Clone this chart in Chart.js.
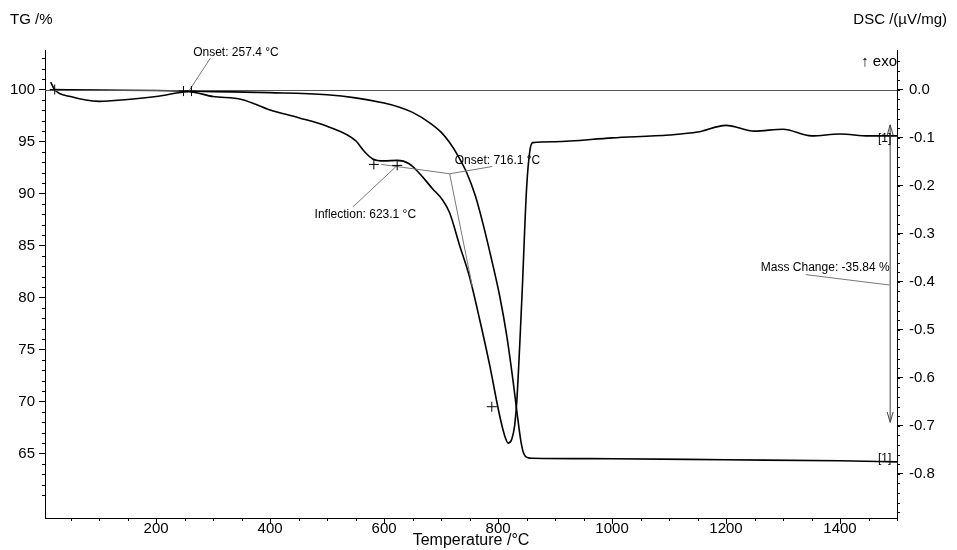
<!DOCTYPE html>
<html>
<head>
<meta charset="utf-8">
<script src="https://cdn.jsdelivr.net/npm/chart.js@4"></script>
<style>
  html, body { margin: 0; padding: 0; background: #fff; }
  #wrap { width: 957px; height: 550px; }
</style>
</head>
<body>
<div id="wrap"><canvas id="tga"></canvas></div>
<script>
// temperatures (°C) and TG mass (%)
const tgTemp = [20, 100, 200, 300, 400, 500, 550, 600, 627, 650, 680, 700, 715, 730, 745, 760, 773, 788, 803, 815, 826, 834, 840, 845, 852, 860, 1000, 1200, 1400, 1500];
const tgMass = [100, 99.95, 99.9, 99.8, 99.7, 99.5, 99.2, 98.7, 98.3, 97.8, 96.8, 95.9, 94.9, 93.6, 92.0, 89.8, 87.2, 83.8, 80.1, 76.4, 72.1, 68.6, 66.2, 65.0, 64.6, 64.55, 64.5, 64.4, 64.3, 64.2];

// temperatures (°C) and DSC signal (µV/mg)
const dscTemp = [15, 22, 50, 100, 150, 200, 257, 300, 350, 400, 450, 500, 550, 565, 580, 600, 623, 644, 662, 685, 703, 715, 732, 750, 768, 785, 803, 812, 818, 824, 829, 833, 842, 850, 856, 861, 900, 1000, 1100, 1150, 1200, 1250, 1300, 1350, 1400, 1450, 1500];
const dscVal = [0.016, 0.0, -0.014, -0.024, -0.02, -0.014, -0.004, -0.014, -0.02, -0.042, -0.058, -0.076, -0.106, -0.128, -0.144, -0.148, -0.147, -0.154, -0.174, -0.206, -0.23, -0.256, -0.322, -0.39, -0.48, -0.572, -0.68, -0.722, -0.736, -0.728, -0.70, -0.646, -0.428, -0.206, -0.125, -0.11, -0.108, -0.1, -0.094, -0.088, -0.074, -0.086, -0.082, -0.096, -0.092, -0.096, -0.096];

const xTicks = [200, 400, 600, 800, 1000, 1200, 1400];
const tgTicks = [65, 70, 75, 80, 85, 90, 95, 100];
const dscTicks = [-0.8, -0.7, -0.6, -0.5, -0.4, -0.3, -0.2, -0.1, 0.0];

const FONT = "'Liberation Sans', Arial, sans-serif";

const toPoints = (xs, ys) => xs.map((x, i) => ({ x: x, y: ys[i] }));

// draws the thermal-analysis markings: baseline, onsets, arrow, labels
const markings = {
  id: "markings",
  afterDraw(chart) {
    const { ctx, chartArea: a, scales } = chart;
    const X = (v) => scales.x.getPixelForValue(v);
    const L = (v) => scales.yTG.getPixelForValue(v);
    const R = (v) => scales.yDSC.getPixelForValue(v);
    ctx.save();

    // minor ticks
    ctx.strokeStyle = "#000";
    ctx.lineWidth = 1;
    ctx.beginPath();
    for (let v = 60; v <= 103; v += 1) {
      if (v % 5 === 0) continue;
      const y = Math.round(L(v)) + 0.5;
      ctx.moveTo(a.left - 3, y); ctx.lineTo(a.left, y);
    }
    for (let v = -0.88; v <= 0.08; v += 0.02) {
      const y = Math.round(R(v)) + 0.5;
      ctx.moveTo(a.right, y); ctx.lineTo(a.right + 3, y);
    }
    for (let v = 50; v <= 1500; v += 50) {
      if (v % 200 === 0) continue;
      const x = Math.round(X(v)) + 0.5;
      ctx.moveTo(x, a.bottom); ctx.lineTo(x, a.bottom + 3);
    }
    ctx.stroke();

    // 100 % baseline
    ctx.strokeStyle = "#555";
    ctx.beginPath();
    ctx.moveTo(a.left, Math.round(L(100)) + 0.5);
    ctx.lineTo(a.right, Math.round(L(100)) + 0.5);
    ctx.stroke();

    // gray leader / tangent lines
    ctx.strokeStyle = "#777";
    ctx.beginPath();
    ctx.moveTo(X(257.4), L(99.85)); ctx.lineTo(X(295), L(103));
    ctx.moveTo(X(623), L(92.7)); ctx.lineTo(X(545), L(88.7));
    ctx.moveTo(X(595), L(92.8)); ctx.lineTo(X(715), L(91.9));
    ctx.lineTo(X(790), L(92.6));
    ctx.moveTo(X(715), L(91.9)); ctx.lineTo(X(755), L(81));
    ctx.moveTo(X(1340), L(82.2)); ctx.lineTo(X(1487), L(81.2));
    ctx.stroke();

    // crosshair markers
    ctx.strokeStyle = "#000";
    const cross = (x, y) => {
      ctx.beginPath();
      ctx.moveTo(x - 5, y); ctx.lineTo(x + 5, y);
      ctx.moveTo(x, y - 5); ctx.lineTo(x, y + 5);
      ctx.stroke();
    };
    cross(X(248), L(99.85));
    cross(X(262), L(99.85));
    cross(X(582), L(92.8));
    cross(X(623), L(92.7));
    cross(X(789), L(69.5));
    cross(X(22), L(100));

    // mass change arrow
    const ax = X(1488);
    ctx.strokeStyle = "#444";
    ctx.beginPath();
    ctx.moveTo(ax, L(96.6)); ctx.lineTo(ax, L(68));
    ctx.moveTo(ax - 3, L(95.6)); ctx.lineTo(ax, L(96.6)); ctx.lineTo(ax + 3, L(95.6));
    ctx.moveTo(ax - 3, L(69)); ctx.lineTo(ax, L(68)); ctx.lineTo(ax + 3, L(69));
    ctx.stroke();

    // texts
    ctx.fillStyle = "#000";
    ctx.font = "12px " + FONT;
    ctx.textBaseline = "middle";
    ctx.textAlign = "left";
    ctx.fillText("Onset: 257.4 °C", X(265), L(103.5));
    ctx.fillText("Inflection: 623.1 °C", X(478), L(88));
    ctx.fillText("Onset: 716.1 °C", X(724), L(93.2));
    ctx.textAlign = "right";
    ctx.fillText("Mass Change: -35.84 %", X(1487), L(82.9));
    ctx.fillText("[1]", X(1490), L(95.3));
    ctx.fillText("[1]", X(1490), L(64.5));

    ctx.font = "15px " + FONT;
    ctx.textAlign = "left";
    ctx.fillText("TG /%", 10, 20);
    ctx.textAlign = "right";
    ctx.fillText("DSC /(µV/mg)", 947, 20);
    ctx.fillText("↑ exo", 897, 62);
    ctx.restore();
  }
};

new Chart(document.getElementById("tga"), {
  type: "line",
  data: {
    datasets: [
      {
        label: "TG",
        data: toPoints(tgTemp, tgMass),
        yAxisID: "yTG",
        borderColor: "#000",
        borderWidth: 1.6,
        pointRadius: 0,
        cubicInterpolationMode: "monotone",
      },
      {
        label: "DSC",
        data: toPoints(dscTemp, dscVal),
        yAxisID: "yDSC",
        borderColor: "#000",
        borderWidth: 1.6,
        pointRadius: 0,
        cubicInterpolationMode: "monotone",
      },
    ],
  },
  options: {
    responsive: true,
    maintainAspectRatio: false,
    animation: false,
    layout: { padding: { top: 50, left: 0, right: 0, bottom: 0 } },
    plugins: { legend: { display: false }, tooltip: { enabled: false } },
    scales: {
      x: {
        type: "linear",
        min: 5,
        max: 1500,
        afterBuildTicks: (s) => { s.ticks = xTicks.map((v) => ({ value: v })); },
        afterFit: (s) => { s.height = 32; },
        ticks: { color: "#000", font: { family: FONT, size: 15 }, padding: -4, maxRotation: 0, callback: (v) => String(v) },
        grid: { drawOnChartArea: false, tickLength: 6, color: "#000" },
        border: { color: "#000" },
        title: { display: true, text: "Temperature /°C", color: "#000", font: { family: FONT, size: 16 }, padding: { top: -4, bottom: 0 } },
      },
      yTG: {
        position: "left",
        min: 58.8,
        max: 103.8,
        afterBuildTicks: (s) => { s.ticks = tgTicks.map((v) => ({ value: v })); },
        afterFit: (s) => { s.width = 45; },
        ticks: { color: "#000", font: { family: FONT, size: 15 }, padding: 4 },
        grid: { drawOnChartArea: false, tickLength: 6, color: "#000" },
        border: { color: "#000" },
      },
      yDSC: {
        position: "right",
        min: -0.892,
        max: 0.083,
        afterBuildTicks: (s) => { s.ticks = dscTicks.map((v) => ({ value: v })); },
        afterFit: (s) => { s.width = 60; },
        ticks: { color: "#000", font: { family: FONT, size: 15 }, padding: 6, callback: (v) => v.toFixed(1) },
        grid: { drawOnChartArea: false, tickLength: 6, color: "#000" },
        border: { color: "#000" },
      },
    },
  },
  plugins: [markings],
});
</script>
</body>
</html>
